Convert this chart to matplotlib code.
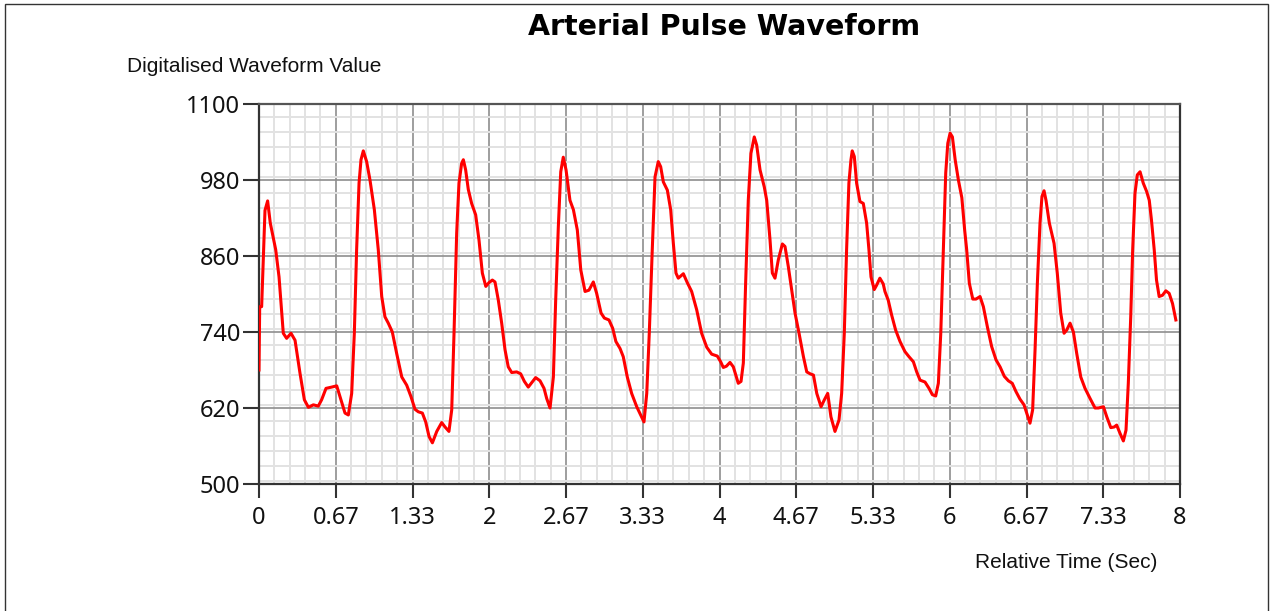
import numpy as np
import matplotlib
matplotlib.use('Agg')
import matplotlib.pyplot as plt
from matplotlib.patches import Rectangle
from matplotlib.ticker import MultipleLocator

time_sec = [
    0.0, 0.006, 0.023, 0.052, 0.075, 0.098, 0.145, 0.174, 0.211, 0.24, 0.278, 0.313,
    0.356, 0.394, 0.429, 0.472, 0.515, 0.544, 0.582, 0.631, 0.675, 0.712, 0.747, 0.776,
    0.805, 0.828, 0.848, 0.869, 0.886, 0.906, 0.935, 0.964, 1.002, 1.036, 1.066, 1.094,
    1.123, 1.158, 1.196, 1.24, 1.283, 1.32, 1.355, 1.384, 1.419, 1.448, 1.477, 1.506,
    1.544, 1.587, 1.616, 1.65, 1.674, 1.694, 1.717, 1.737, 1.76, 1.775, 1.795, 1.818,
    1.847, 1.882, 1.911, 1.94, 1.97, 1.998, 2.027, 2.05, 2.079, 2.108, 2.137, 2.165,
    2.195, 2.238, 2.273, 2.305, 2.339, 2.369, 2.403, 2.441, 2.476, 2.499, 2.528, 2.557,
    2.577, 2.6, 2.621, 2.643, 2.667, 2.701, 2.731, 2.765, 2.795, 2.832, 2.866, 2.904,
    2.933, 2.971, 3.0, 3.04, 3.072, 3.1, 3.136, 3.164, 3.199, 3.237, 3.281, 3.315,
    3.344, 3.368, 3.39, 3.416, 3.44, 3.468, 3.489, 3.512, 3.547, 3.576, 3.599, 3.622,
    3.642, 3.686, 3.72, 3.758, 3.802, 3.845, 3.889, 3.932, 3.981, 4.01, 4.033, 4.06,
    4.091, 4.12, 4.163, 4.187, 4.207, 4.227, 4.25, 4.273, 4.302, 4.323, 4.352, 4.389,
    4.41, 4.439, 4.459, 4.482, 4.511, 4.546, 4.569, 4.598, 4.627, 4.656, 4.691, 4.729,
    4.758, 4.787, 4.816, 4.845, 4.882, 4.911, 4.94, 4.968, 5.003, 5.038, 5.061, 5.084,
    5.104, 5.124, 5.142, 5.153, 5.171, 5.191, 5.22, 5.249, 5.278, 5.298, 5.316, 5.344,
    5.365, 5.393, 5.422, 5.437, 5.466, 5.495, 5.53, 5.568, 5.611, 5.646, 5.684, 5.713,
    5.742, 5.785, 5.82, 5.849, 5.878, 5.901, 5.922, 5.944, 5.965, 5.983, 6.003, 6.023,
    6.047, 6.075, 6.105, 6.13, 6.147, 6.17, 6.2, 6.228, 6.263, 6.292, 6.327, 6.364,
    6.402, 6.437, 6.474, 6.509, 6.543, 6.575, 6.61, 6.645, 6.668, 6.697, 6.72, 6.741,
    6.761, 6.784, 6.801, 6.819, 6.836, 6.865, 6.906, 6.934, 6.964, 6.993, 7.016, 7.045,
    7.074, 7.103, 7.138, 7.175, 7.219, 7.262, 7.291, 7.335, 7.364, 7.399, 7.428, 7.45,
    7.479, 7.508, 7.531, 7.551, 7.572, 7.589, 7.609, 7.629, 7.653, 7.681, 7.71, 7.733,
    7.752, 7.776, 7.796, 7.819, 7.848, 7.877, 7.906, 7.935, 7.964,
]
wave_value = [
    680, 780, 780, 932, 947, 912, 870, 827, 738, 730, 738, 727,
    675, 633, 621, 625, 623, 633, 651, 653, 655, 633, 612, 609,
    643, 738, 870, 975, 1012, 1026, 1009, 980, 933, 870, 796, 764,
    754, 740, 706, 669, 656, 638, 618, 614, 612, 598, 575, 565,
    583, 597, 590, 583, 617, 738, 896, 975, 1006, 1012, 996, 965,
    943, 925, 885, 833, 812, 818, 822, 819, 790, 754, 712, 685,
    676, 677, 674, 662, 653, 660, 668, 663, 651, 635, 620, 669,
    790, 906, 993, 1016, 996, 948, 933, 901, 838, 804, 806, 819,
    801, 770, 762, 759, 746, 725, 714, 701, 669, 643, 622, 609,
    598, 643, 738, 870, 985, 1009, 1001, 977, 964, 933, 880, 833,
    825, 832, 818, 804, 775, 738, 716, 705, 702, 693, 684, 686,
    692, 685, 659, 662, 691, 817, 948, 1022, 1048, 1035, 996, 969,
    948, 885, 833, 825, 854, 879, 875, 843, 806, 770, 738, 701,
    677, 674, 672, 643, 622, 633, 643, 606, 583, 601, 643, 738,
    870, 975, 1012, 1026, 1017, 975, 946, 943, 912, 870, 827, 807,
    814, 825, 816, 804, 790, 767, 743, 725, 709, 701, 693, 677,
    664, 661, 651, 641, 639, 659, 738, 870, 991, 1038, 1054, 1048,
    1012, 980, 952, 900, 870, 817, 792, 792, 796, 780, 748, 717,
    696, 685, 670, 663, 659, 646, 634, 625, 612, 596, 617, 712,
    817, 912, 954, 963, 948, 912, 880, 833, 770, 738, 743, 754,
    740, 706, 669, 651, 635, 620, 620, 622, 606, 589, 590, 593,
    580, 568, 585, 659, 764, 870, 959, 988, 993, 975, 962, 948,
    917, 870, 822, 796, 798, 805, 801, 785, 759,
]

x_tick_labels = ['0', '0.67', '1.33', '2', '2.67', '3.33', '4',
                 '4.67', '5.33', '6', '6.67', '7.33', '8']
y_ticks = [500, 620, 740, 860, 980, 1100]

W, H = 1272, 611
fig = plt.figure(figsize=(W / 100, H / 100), dpi=100)
ax = fig.add_axes([259 / W, 1 - 484 / H, 921 / W, 380 / H])

ax.plot(time_sec, wave_value, color='#ff0000', lw=2.2, solid_joinstyle='round', zorder=3)

ax.set_xlim(0, 8)
ax.set_ylim(500, 1100)

x_ticks = np.arange(13) * 8 / 12
ax.set_xticks(x_ticks)
ax.set_xticklabels(x_tick_labels)
ax.set_yticks(y_ticks)
ax.xaxis.set_minor_locator(MultipleLocator(8 / 60))
ax.yaxis.set_minor_locator(MultipleLocator(24))

ax.grid(which='minor', color='#e2e2e2', lw=1.4, zorder=0)
ax.grid(which='major', color='#8e8e8e', lw=1.2, zorder=1)
ax.set_axisbelow(True)

# narrow face for tick numbers, like the original
for lab in ax.get_xticklabels() + ax.get_yticklabels():
    lab.set_family('Noto Sans')
    lab.set_stretch('condensed')
    lab.set_fontsize(17)
    lab.set_color('#111111')

ax.tick_params(which='minor', length=0)
ax.tick_params(axis='x', which='major', length=10, width=1.5, color='#333333', pad=6)
ax.tick_params(axis='y', which='major', length=11.5, width=1.5, color='#333333', pad=2)

for side, sp in ax.spines.items():
    sp.set_color('#333333')
    sp.set_linewidth(1.6)
ax.spines['top'].set_color('#555555')

fig.text(724.5 / W, 1 - 27 / H, 'Arterial Pulse Waveform', ha='center', va='center',
         fontsize=20.5, fontweight='bold', family='DejaVu Sans')
fig.text(127 / W, 1 - 66 / H, 'Digitalised Waveform Value', ha='left', va='center',
         fontsize=15, family='Liberation Sans', color='#111111')
fig.text(1157 / W, 1 - 563 / H, 'Relative Time (Sec)', ha='right', va='center',
         fontsize=15, family='Liberation Sans', color='#111111')

fig.patches.append(Rectangle((5 / W, -0.02), 1263 / W, 1.02 - 4 / H, fill=False,
                             ec='#333333', lw=1.0, transform=fig.transFigure))

fig.savefig('out.png', dpi=100)
